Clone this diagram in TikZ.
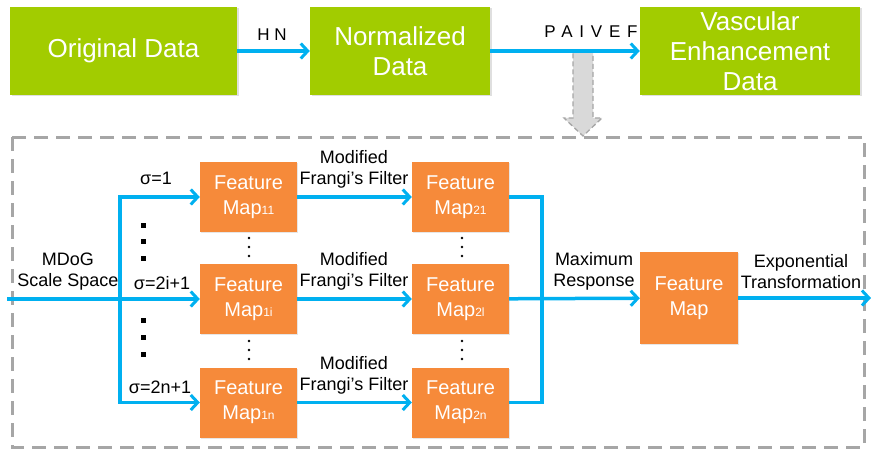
\documentclass[tikz,border=0pt]{standalone}
\usepackage{fontspec}
\setmainfont{Liberation Sans}
\usetikzlibrary{arrows.meta,shadows}

\definecolor{leaf}{HTML}{A2CC00}
\definecolor{tangerine}{HTML}{F68A3A}
\definecolor{sky}{HTML}{00B0F0}
\definecolor{frame}{HTML}{A6A6A6}
\definecolor{pale}{HTML}{D9D9D9}

\newcommand\subidx[1]{{\fontsize{12}{12}\selectfont #1}}

\tikzset{
  greenbox/.style={fill=leaf, text=white, inner sep=0pt, align=center,
    font=\fontsize{26}{30}\selectfont,
    drop shadow={opacity=0.25, shadow xshift=1.5pt, shadow yshift=-1.5pt}},
  orangebox/.style={fill=tangerine, text=white, inner sep=0pt, align=center,
    minimum width=97pt, minimum height=70pt,
    font=\fontsize{20}{25}\selectfont,
    drop shadow={opacity=0.2, shadow xshift=1.2pt, shadow yshift=-1.2pt}},
  bline/.style={draw=sky, line width=3.5pt, line join=miter},
  flow/.style={bline, -{Straight Barb[length=7pt, width=15pt, line width=3pt]}},
  lbl/.style={inner sep=0pt, align=center, font=\fontsize{18}{21}\selectfont},
  spaced/.style={inner sep=0pt, font=\fontsize{17}{17}\selectfont\addfontfeature{LetterSpace=#1}},
}

\begin{document}
\begin{tikzpicture}[x=1pt, y=-1pt]
\useasboundingbox (0,0) rectangle (871,452);

% dashed enclosure of the enhancement stage
\draw[frame, line width=3pt, dash pattern=on 14pt off 8pt] (12,137) rectangle (864,447);

% top pipeline
\node[greenbox, minimum width=227pt, minimum height=88pt] (orig) at (123.5,51) {Original Data};
\node[greenbox, minimum width=180pt, minimum height=88pt] (norm) at (400,51) {Normalized\\Data};
\node[greenbox, minimum width=220pt, minimum height=88pt] (vasc) at (750,51) {Vascular\\Enhancement\\Data};

% grey drop-down arrow into the detail box
\draw[frame, line width=1.3pt, dash pattern=on 5pt off 3pt, fill=pale]
  (573,52) -- (593,52) -- (593,118) -- (602,118) -- (583,136) -- (564,118) -- (573,118) -- cycle;

\draw[flow] (orig) -- (norm);
\draw[flow] (norm) -- (vasc);
\node[spaced=28] (hn) at (272,35) {HN};
\node[spaced=40] (pv) at (591,32) {PAIVEF};

% first column of feature maps
\node[orangebox] (c11) at (248.5,197) {Feature\\Map\subidx{11}};
\node[orangebox] (c1i) at (248.5,299) {Feature\\Map\subidx{1i}};
\node[orangebox] (c1n) at (248.5,402.5) {Feature\\Map\subidx{1n}};
% second column of feature maps
\node[orangebox] (c21) at (460.5,197) {Feature\\Map\subidx{21}};
\node[orangebox] (c2i) at (460.5,299) {Feature\\Map\subidx{2l}};
\node[orangebox] (c2n) at (460.5,402.5) {Feature\\Map\subidx{2n}};
% fused map
\node[orangebox, minimum width=98pt, minimum height=92pt] (fm) at (689,298) {Feature\\Map};

% scale-space fork
\coordinate (src) at (7,299);
\coordinate (fkt) at (120,197);
\coordinate (fkb) at (120,402.5);
\draw[flow] (src) -- (c1i);
\draw[flow] (fkb) -- (fkt) -- (c11);
\draw[flow] (fkt) -- (fkb) -- (c1n);

% filtering
\draw[flow] (c11) -- (c21);
\draw[flow] (c1i) -- (c2i);
\draw[flow] (c1n) -- (c2n);

% maximum response collector
\coordinate (kt) at (542,197);
\coordinate (kb) at (542,402.5);
\draw[bline] (c21.east) -- (kt) -- (kb) -- (c2n.east);
\draw[flow] (c2i) -- (fm);

% output
\coordinate (out) at (871,298);
\draw[flow] (fm) -- (out);

% labels
\node[lbl] (mdog) at (68,271.5) {MDoG\\Scale Space};
\node[lbl] (s1) at (156,178) {σ=1};
\node[lbl] (si) at (162,283) {σ=2i+1};
\node[lbl] (sn) at (160,387) {σ=2n+1};
\node[lbl] (mf1) at (354,169) {Modified\\Frangi’s Filter};
\node[lbl] (mf2) at (354,271.5) {Modified\\Frangi’s Filter};
\node[lbl] (mf3) at (354,375) {Modified\\Frangi’s Filter};
\node[lbl] (mr) at (594,271.5) {Maximum\\Response};
\node[lbl] (et) at (801,272) {Exponential\\Transformation};

% omitted scales
\foreach \yy in {225,241.5,258,320,337,354}
  \fill (140.5,\yy-2.5) rectangle ++(5,5);
\foreach \xx in {249,462}{
  \foreach \yy in {238,247,256,341,350,359}
    \fill (\xx,\yy) circle (1.4pt);
}
\end{tikzpicture}
\end{document}
